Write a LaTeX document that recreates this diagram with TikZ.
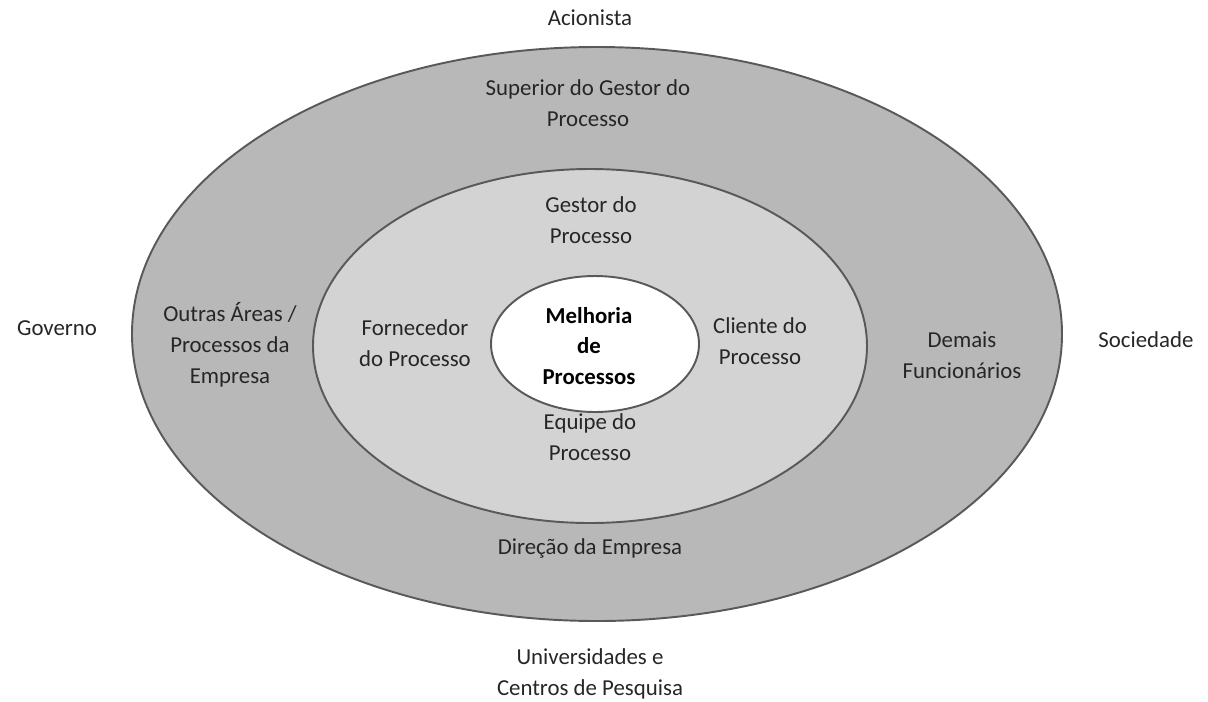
\documentclass[tikz,border=0pt]{standalone}
\usepackage{fontspec}
\setmainfont{Carlito}
\usepackage{xcolor}
\usepackage{tikz}
\definecolor{ring}{HTML}{595959}
\definecolor{outerfill}{HTML}{B8B8B8}
\definecolor{midfill}{HTML}{D3D3D3}
\definecolor{ink}{HTML}{262626}
\tikzset{
  zone/.style={line width=1.1pt, draw=ring},
  lab/.style={text=ink, font=\fontsize{13}{17.5}\selectfont, align=center},
  core/.style={text=black, font=\fontsize{13}{17.5}\selectfont\bfseries, align=center},
}

\begin{document}
\begin{tikzpicture}[x=0.02cm, y=-0.02cm]
  \useasboundingbox (0,0) rectangle (1208,701);

  \coordinate (O) at (597,334);  % outer centre
  \coordinate (M) at (590,346);  % middle centre
  \coordinate (I) at (595,344);  % inner centre

  \draw[zone, fill=outerfill] (O) ellipse [x radius=465, y radius=287];
  \draw[zone, fill=midfill] (M) ellipse [x radius=277, y radius=177];
  \draw[zone, fill=white] (I) ellipse [x radius=104, y radius=68];

  % outside the rings
  \node[lab] (acion) at (590,18) {Acionista};
  \node[lab] (gov) at (57,328) {Governo};
  \node[lab] (soc) at (1146,340) {Sociedade};
  \node[lab] (univ) at (590,674) {Universidades e\\Centros de Pesquisa};

  % outer ring
  \node[lab] (sup) at (588,103) {Superior do Gestor do\\Processo};
  \node[lab] (outras) at (230,345) {Outras Áreas /\\Processos da\\Empresa};
  \node[lab] (demais) at (962,355) {Demais\\Funcionários};
  \node[lab] (dir) at (590,548) {Direção da Empresa};

  % middle ring
  \node[lab] (gestor) at (591,220) {Gestor do\\Processo};
  \node[lab] (forn) at (415,343) {Fornecedor\\do Processo};
  \node[lab] (cli) at (760,341) {Cliente do\\Processo};
  \node[lab] (equipe) at (590,437) {Equipe do\\Processo};

  % centre
  \node[core] (melhoria) at (589,346) {Melhoria\\de\\Processos};
\end{tikzpicture}
\end{document}
